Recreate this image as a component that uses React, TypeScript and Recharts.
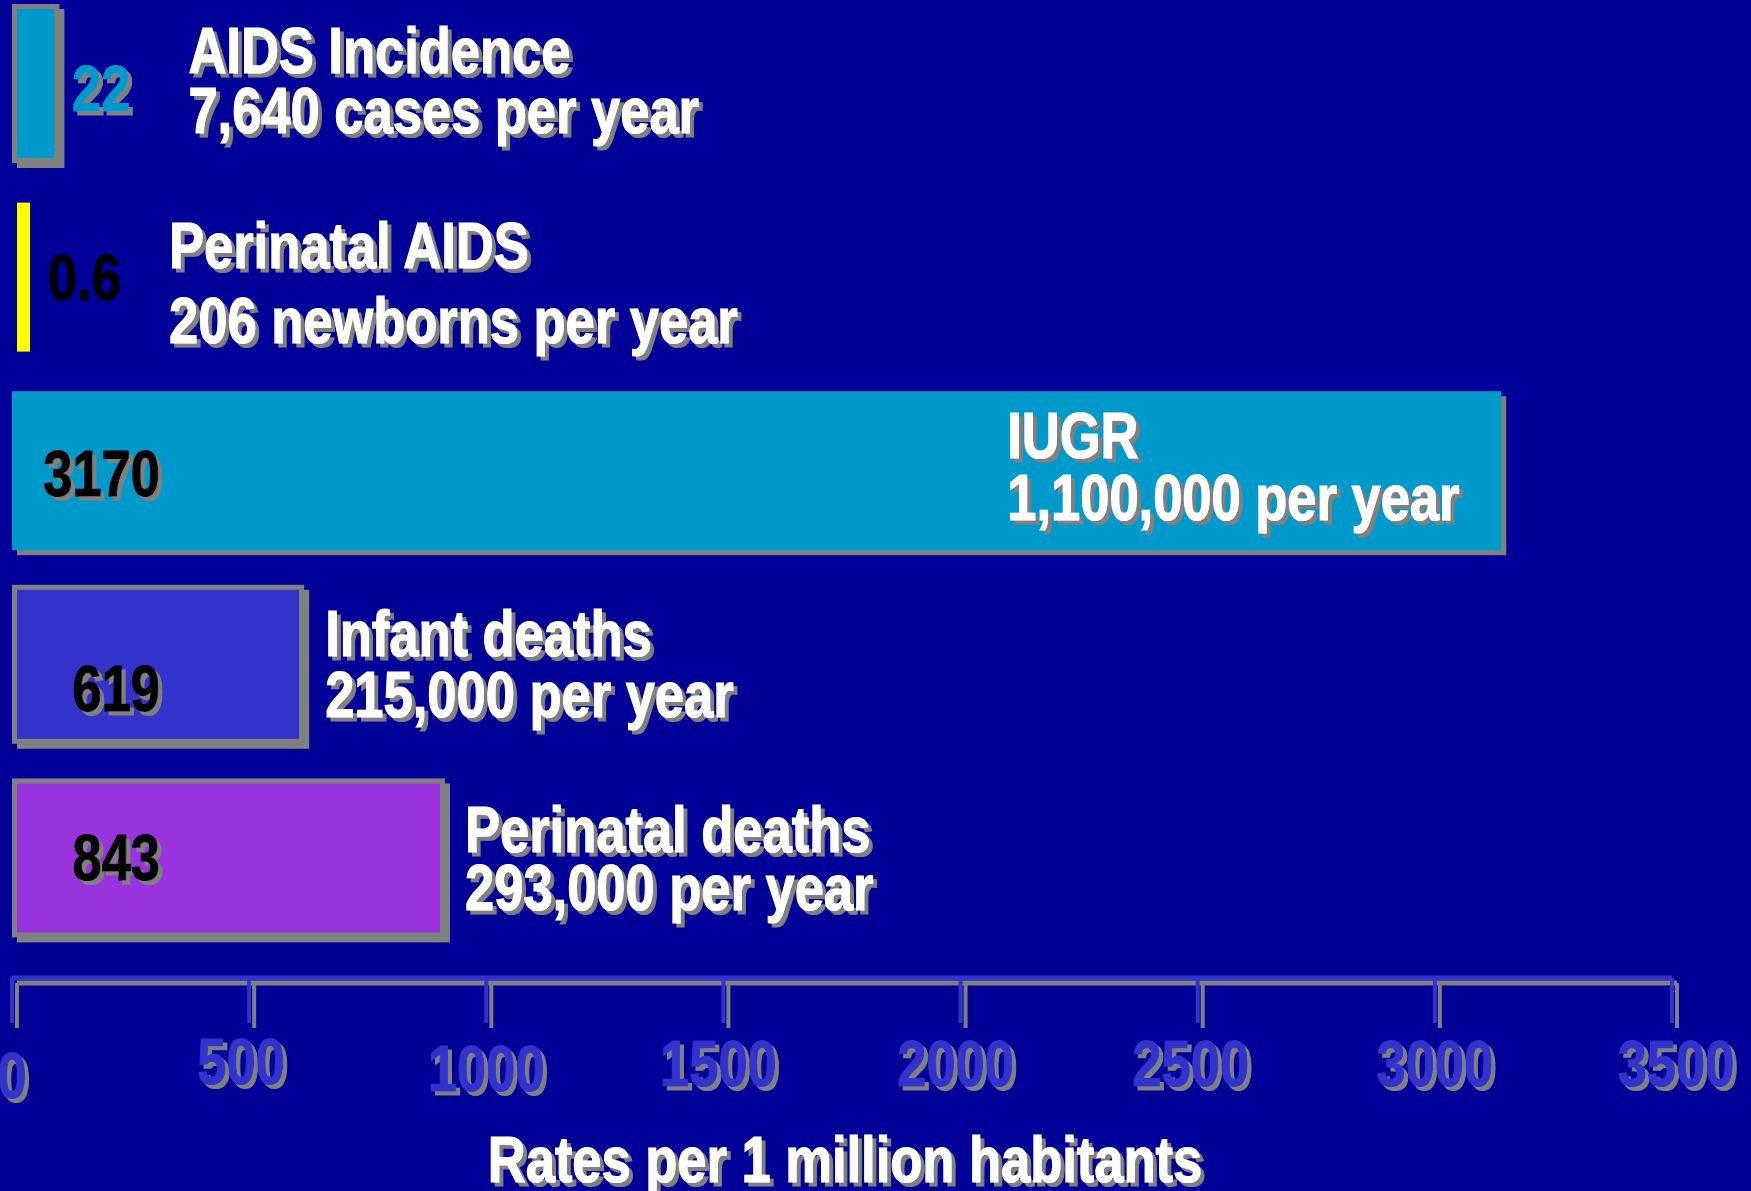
import React from "react";
import { BarChart, Bar, XAxis, YAxis, LabelList } from "recharts";

// rows, top to bottom
const categories = ["AIDS Incidence", "Perinatal AIDS", "IUGR", "Infant deaths", "Perinatal deaths"];
const yearlyCounts = [
  "7,640 cases per year",
  "206 newborns per year",
  "1,100,000 per year",
  "215,000 per year",
  "293,000 per year",
];
// rates per 1 million habitants, as printed next to the bars
const rates = [22, 0.6, 3170, 619, 843];
// bar lengths as they are drawn on the slide (read against the axis)
const drawnLengths = [100, 38, 3140, 616, 913];
const xTicks = [0, 500, 1000, 1500, 2000, 2500, 3000, 3500];

const W = 1751;
const H = 1191;
const BG = "#000099";
const SHADOW = "#808080";
const AXIS_BLUE = "#3333CC";
// no Arial Narrow here: Liberation Sans Bold squeezed to narrow width
const FONT = "'Liberation Sans', Arial, sans-serif";
const FS = 64;
const NARROW = 0.82;

const barStyles = [
  { fill: "#0099CC", border: true, shadow: true, inset: 0 },
  { fill: "#FFFF00", border: false, shadow: false, inset: 5 },
  { fill: "#0099CC", border: false, shadow: true, inset: 0 },
  { fill: "#3333CC", border: true, shadow: true, inset: 0 },
  { fill: "#9933DD", border: true, shadow: true, inset: 0 },
];

// value label: anchor + offset from bar start, baseline offset from bar centre
const valueStyles = [
  { anchor: "start", dx: 60, dy: 27, color: "#0099CC", shadow: true },
  { anchor: "start", dx: 36, dy: 23, color: "#000000", shadow: false },
  { anchor: "end", dx: 148, dy: 25, color: "#000000", shadow: true },
  { anchor: "end", dx: 148, dy: 47, color: "#000000", shadow: true },
  { anchor: "end", dx: 148, dy: 22, color: "#000000", shadow: true },
];

// category label: offset from bar end, baselines of the two lines from bar centre
const nameStyles = [
  { dx: 129, dy1: -11, dy2: 49 },
  { dx: 139, dy1: -9, dy2: 66 },
  { dx: -494, dy1: -13, dy2: 49 },
  { dx: 21, dy1: -8, dy2: 53 },
  { dx: 20, dy1: -6, dy2: 52 },
];

// the slide's tick labels sit a little unevenly
const tickNudge: Record<number, [number, number]> = {
  0: [0, 12],
  500: [-8, -2],
  1000: [0, 5],
  1500: [-5, 0],
  2000: [-5, 0],
  2500: [-7, 0],
  3000: [0, 0],
  3500: [4, 0],
};

const rows = categories.map((name, i) => ({ name, length: drawnLengths[i] }));

function ShadowText({ x, y, text, fill, anchor = "start", shadow = true }: any) {
  return (
    <g filter={shadow ? "url(#textShadow)" : undefined}>
      <text
        transform={`translate(${x},${y}) scale(${NARROW},1)`}
        x={0}
        y={0}
        fill={fill}
        stroke={fill}
        strokeWidth={1.2}
        fontFamily={FONT}
        fontWeight={700}
        fontSize={FS}
        textAnchor={anchor}
      >
        {text}
      </text>
    </g>
  );
}

const BarShape = (props: any) => {
  const { x, y, width, height, payload } = props;
  const i = categories.indexOf(payload.name);
  const s = barStyles[i];
  const bx = x + s.inset;
  const by = y + s.inset;
  const bw = width - s.inset;
  const bh = height - 2 * s.inset;
  return (
    <g>
      {s.shadow && <rect x={bx + 5} y={by + 5} width={bw} height={bh} fill={SHADOW} />}
      {s.border ? (
        <>
          <rect x={bx} y={by} width={bw} height={bh} fill={SHADOW} />
          <rect x={bx + 5} y={by + 5} width={bw - 10} height={bh - 10} fill={s.fill} />
        </>
      ) : (
        <rect x={bx} y={by} width={bw} height={bh} fill={s.fill} />
      )}
    </g>
  );
};

const RowLabels = (props: any) => {
  const vb = props.viewBox ?? props;
  const i = categories.indexOf(props.value);
  if (i < 0) return null;
  const cy = vb.y + vb.height / 2;
  const end = vb.x + vb.width;
  const v = valueStyles[i];
  const n = nameStyles[i];
  return (
    <g>
      <ShadowText x={vb.x + v.dx} y={cy + v.dy} text={String(rates[i])} fill={v.color} anchor={v.anchor} shadow={v.shadow} />
      <ShadowText x={end + n.dx} y={cy + n.dy1} text={categories[i]} fill="#FFFFFF" />
      <ShadowText x={end + n.dx} y={cy + n.dy2} text={yearlyCounts[i]} fill="#FFFFFF" />
    </g>
  );
};

const AxisTick = (props: any) => {
  const { x, y, payload } = props;
  const [nx, ny] = tickNudge[payload.value] ?? [0, 0];
  return <ShadowText x={x + nx} y={y + 61 + ny} text={String(payload.value)} fill={AXIS_BLUE} anchor="middle" />;
};

const AxisTitle = (props: any) => {
  const vb = props.viewBox ?? props;
  return (
    <ShadowText
      x={vb.x + vb.width / 2 + 3}
      y={vb.y + 204}
      text="Rates per 1 million habitants"
      fill="#FFFFFF"
      anchor="middle"
    />
  );
};

export default function App() {
  return (
    <div style={{ position: "fixed", left: 0, top: 0, width: W, height: H, background: BG }}>
      <svg width={0} height={0} style={{ position: "absolute" }}>
        <defs>
          <filter id="axisShadow" filterUnits="userSpaceOnUse" x={-100} y={-100} width={2000} height={1500}>
            <feOffset in="SourceAlpha" dx={5} dy={5} result="off" />
            <feFlood floodColor={SHADOW} />
            <feComposite in2="off" operator="in" result="sh" />
            <feMerge>
              <feMergeNode in="sh" />
              <feMergeNode in="SourceGraphic" />
            </feMerge>
          </filter>
          <filter id="textShadow" filterUnits="userSpaceOnUse" x={-100} y={-100} width={2000} height={1500}>
            <feOffset in="SourceAlpha" dx={4} dy={4} result="off" />
            <feFlood floodColor={SHADOW} />
            <feComposite in2="off" operator="in" result="sh" />
            <feMerge>
              <feMergeNode in="sh" />
              <feMergeNode in="SourceGraphic" />
            </feMerge>
          </filter>
        </defs>
      </svg>
      <style>{`.recharts-cartesian-axis-line, .recharts-cartesian-axis-tick-line { filter: url(#axisShadow); }`}</style>
      <BarChart
        width={W}
        height={H}
        layout="vertical"
        data={rows}
        margin={{ top: -13, right: 79, bottom: 0, left: 12 }}
      >
        <XAxis
          type="number"
          domain={[0, 3500]}
          ticks={xTicks}
          interval={0}
          height={213}
          tickSize={45}
          axisLine={{ stroke: AXIS_BLUE, strokeWidth: 5 }}
          tickLine={{ stroke: AXIS_BLUE, strokeWidth: 4 }}
          tick={<AxisTick />}
          label={AxisTitle}
        />
        <YAxis type="category" dataKey="name" hide padding={{ top: 0, bottom: 23 }} />
        <Bar dataKey="length" barSize={159} shape={<BarShape />} isAnimationActive={false}>
          <LabelList dataKey="name" content={RowLabels} />
        </Bar>
      </BarChart>
    </div>
  );
}
